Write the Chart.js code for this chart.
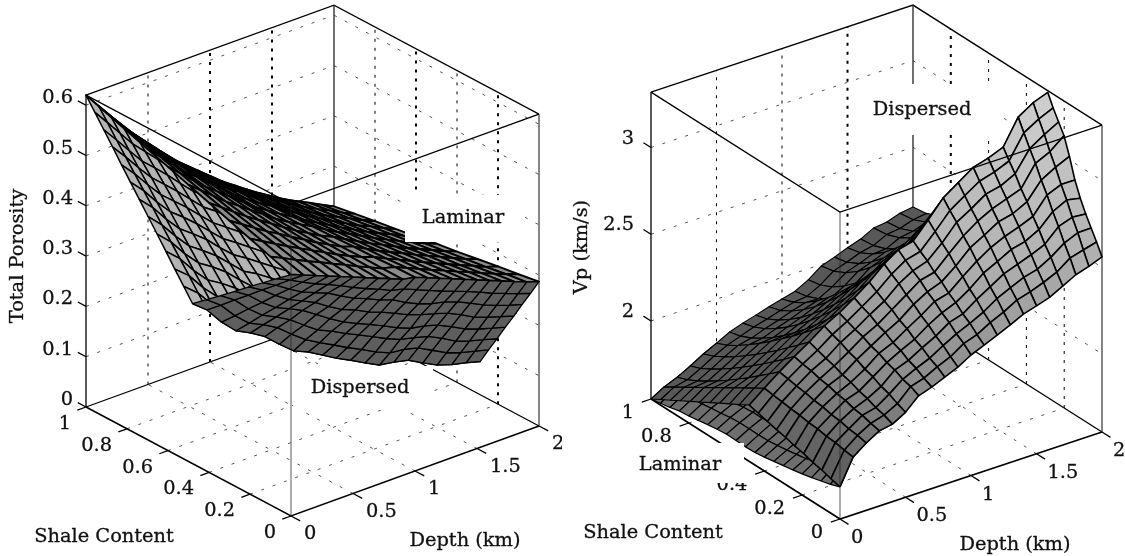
<!DOCTYPE html>
<html>
<head>
<meta charset="utf-8">
<title>Porosity and Vp surfaces</title>
<script src="https://cdn.jsdelivr.net/npm/chart.js@4"></script>
<style>
  html, body { margin: 0; padding: 0; background: #fff; overflow: hidden; }
  #wrap { position: relative; width: 1125px; height: 556px; }
  canvas { position: absolute; top: 0; }
  #porosityChart { left: 0; }
  #vpChart { left: 562px; }
</style>
</head>
<body>
<div id="wrap">
  <canvas id="porosityChart" width="562" height="556"></canvas>
  <canvas id="vpChart" width="563" height="556"></canvas>
</div>
<script>
// depth columns shared by every sheet
const depthKm = [0, 0.1, 0.2, 0.3, 0.4, 0.5, 0.6, 0.7, 0.8, 0.9, 1, 1.1, 1.2, 1.3, 1.4, 1.5, 1.6, 1.7, 1.8, 1.9, 2];
// shale content of the fold between the two dispersed sheets, per depth
const foldShale = [0.48, 0.47, 0.46, 0.45, 0.44, 0.43, 0.42, 0.41, 0.40, 0.39, 0.385, 0.375, 0.365, 0.355, 0.345, 0.335, 0.325, 0.315, 0.305, 0.295, 0.287];

// Left plot, one row per depth, shale content rising along the row
// dispersed, from clean sand down to the fold
const porosityDispersedLow = [
  [.480,.457,.434,.411,.387,.364,.341,.318],
  [.470,.446,.421,.397,.372,.348,.323,.299],
  [.460,.433,.405,.378,.350,.323,.295,.268],
  [.450,.421,.391,.362,.332,.303,.273,.244],
  [.440,.411,.381,.351,.322,.292,.263,.233],
  [.430,.400,.372,.340,.311,.279,.250,.219],
  [.420,.388,.358,.324,.295,.261,.230,.197],
  [.410,.377,.345,.310,.279,.244,.212,.177],
  [.400,.367,.336,.301,.265,.234,.199,.168],
  [.390,.356,.325,.289,.254,.222,.187,.155],
  [.385,.350,.317,.280,.244,.211,.174,.141],
  [.375,.340,.303,.270,.233,.200,.163,.130],
  [.365,.330,.292,.259,.222,.189,.151,.118],
  [.355,.320,.284,.251,.213,.180,.142,.107],
  [.345,.311,.279,.245,.210,.176,.142,.106],
  [.335,.302,.271,.238,.204,.171,.138,.103],
  [.325,.292,.260,.227,.193,.160,.126,.091],
  [.315,.281,.248,.214,.181,.147,.114,.080],
  [.305,.272,.239,.206,.173,.140,.107,.074],
  [.295,.263,.231,.199,.167,.135,.103,.071],
  [.287,.255,.224,.192,.161,.129,.098,.066]
];
// dispersed, from the fold up to pure shale
const porosityDispersedHigh = [
  [.318,.343,.368,.394,.419,.444,.469,.494,.519,.545,.570,.595,.620],
  [.299,.323,.348,.372,.396,.420,.445,.469,.493,.517,.541,.566,.590],
  [.268,.293,.317,.341,.365,.390,.414,.438,.463,.487,.511,.536,.560],
  [.244,.268,.292,.315,.339,.363,.387,.411,.435,.459,.482,.506,.530],
  [.233,.256,.278,.301,.324,.346,.369,.392,.414,.437,.460,.482,.505],
  [.219,.241,.263,.284,.306,.328,.350,.371,.393,.415,.437,.458,.480],
  [.197,.219,.240,.262,.283,.305,.326,.348,.369,.391,.412,.434,.455],
  [.177,.198,.219,.240,.261,.282,.304,.325,.346,.367,.388,.409,.430],
  [.168,.188,.208,.229,.249,.269,.289,.309,.329,.350,.370,.390,.410],
  [.155,.175,.194,.214,.233,.253,.273,.292,.312,.331,.351,.370,.390],
  [.141,.160,.179,.198,.217,.236,.256,.275,.294,.313,.332,.351,.370],
  [.130,.148,.167,.185,.203,.222,.240,.258,.277,.295,.313,.332,.350],
  [.118,.136,.154,.172,.190,.208,.226,.243,.261,.279,.297,.315,.333],
  [.107,.124,.142,.159,.177,.194,.212,.229,.246,.264,.281,.299,.316],
  [.106,.122,.138,.155,.171,.187,.203,.219,.235,.252,.268,.284,.300],
  [.103,.118,.133,.149,.164,.179,.194,.209,.224,.240,.255,.270,.285],
  [.091,.106,.121,.136,.151,.166,.181,.195,.210,.225,.240,.255,.270],
  [.080,.095,.110,.124,.139,.154,.169,.183,.198,.213,.228,.242,.257],
  [.074,.088,.103,.117,.131,.145,.160,.174,.188,.202,.217,.231,.245],
  [.071,.084,.098,.111,.125,.138,.152,.165,.178,.192,.205,.219,.232],
  [.066,.079,.092,.104,.117,.130,.143,.156,.169,.181,.194,.207,.220]
];
// laminar, shale content 0 to 1 in steps of 0.1
const porosityLaminar = [
  [.480,.494,.508,.522,.536,.550,.564,.578,.592,.606,.620],
  [.470,.482,.494,.506,.518,.530,.542,.554,.566,.578,.590],
  [.460,.470,.480,.490,.500,.510,.520,.530,.540,.550,.560],
  [.450,.458,.466,.474,.482,.490,.498,.506,.514,.522,.530],
  [.440,.447,.453,.460,.466,.473,.479,.486,.492,.499,.505],
  [.430,.435,.440,.445,.450,.455,.460,.465,.470,.475,.480],
  [.420,.424,.427,.431,.434,.438,.441,.445,.448,.452,.455],
  [.410,.412,.414,.416,.418,.420,.422,.424,.426,.428,.430],
  [.400,.401,.402,.403,.404,.405,.406,.407,.408,.409,.410],
  [.390,.390,.391,.390,.390,.391,.390,.390,.391,.390,.390],
  [.385,.384,.382,.381,.379,.378,.376,.375,.373,.372,.370],
  [.375,.373,.370,.368,.365,.363,.360,.358,.355,.353,.350],
  [.365,.362,.359,.355,.352,.349,.346,.343,.339,.336,.333],
  [.355,.351,.347,.343,.339,.336,.332,.328,.324,.320,.316],
  [.345,.341,.336,.332,.327,.323,.318,.314,.309,.305,.300],
  [.335,.330,.325,.320,.315,.310,.305,.300,.295,.290,.285],
  [.325,.320,.314,.309,.303,.298,.292,.287,.281,.276,.270],
  [.315,.309,.303,.298,.292,.286,.280,.274,.269,.263,.257],
  [.305,.299,.293,.287,.281,.275,.269,.263,.257,.251,.245],
  [.295,.289,.282,.276,.270,.264,.257,.251,.245,.238,.232],
  [.287,.280,.274,.267,.260,.254,.247,.240,.234,.227,.220]
];

// Right plot, same layout as the left one
const vpDispersedLow = [
  [1.735,1.749,1.766,1.777,1.794,1.805,1.822,1.833,1.847,1.861,1.875],
  [1.882,1.889,1.900,1.904,1.914,1.918,1.928,1.932,1.940,1.947,1.954],
  [1.938,1.950,1.956,1.969,1.975,1.987,1.993,2.005,2.012,2.021,2.030],
  [1.983,1.995,2.010,2.018,2.034,2.042,2.057,2.065,2.080,2.088,2.100],
  [1.997,2.018,2.031,2.052,2.065,2.086,2.098,2.119,2.132,2.149,2.166],
  [2.040,2.060,2.085,2.100,2.125,2.140,2.165,2.180,2.204,2.220,2.240],
  [2.110,2.134,2.147,2.171,2.185,2.209,2.222,2.246,2.260,2.278,2.297],
  [2.135,2.158,2.186,2.204,2.232,2.250,2.279,2.297,2.325,2.343,2.366],
  [2.167,2.199,2.221,2.253,2.275,2.308,2.330,2.362,2.384,2.411,2.438],
  [2.200,2.233,2.270,2.298,2.335,2.363,2.400,2.428,2.465,2.493,2.525],
  [2.245,2.284,2.313,2.352,2.381,2.420,2.449,2.488,2.517,2.551,2.585],
  [2.277,2.311,2.350,2.379,2.418,2.447,2.486,2.515,2.554,2.583,2.617],
  [2.310,2.356,2.392,2.438,2.474,2.520,2.556,2.602,2.638,2.679,2.720],
  [2.343,2.392,2.445,2.489,2.543,2.587,2.640,2.684,2.738,2.781,2.830],
  [2.380,2.437,2.484,2.541,2.588,2.645,2.692,2.749,2.796,2.848,2.900],
  [2.403,2.460,2.521,2.573,2.635,2.687,2.748,2.800,2.862,2.913,2.970],
  [2.427,2.490,2.543,2.605,2.658,2.721,2.774,2.837,2.889,2.947,3.005],
  [2.467,2.525,2.589,2.642,2.705,2.759,2.822,2.875,2.939,2.992,3.050],
  [2.507,2.582,2.647,2.721,2.786,2.861,2.926,3.001,3.065,3.135,3.205],
  [2.530,2.604,2.683,2.752,2.831,2.900,2.979,3.048,3.127,3.196,3.270],
  [2.560,2.626,2.687,2.748,2.819,2.904,3.020,3.119,3.179,3.240,3.310]
];
const vpDispersedHigh = [
  [1.875,1.842,1.810,1.778,1.745,1.713,1.680,1.648,1.615,1.583,1.550],
  [1.954,1.918,1.882,1.846,1.810,1.774,1.738,1.702,1.666,1.630,1.594],
  [2.030,1.980,1.932,1.884,1.839,1.795,1.754,1.715,1.679,1.648,1.625],
  [2.100,2.046,1.994,1.943,1.895,1.848,1.803,1.762,1.723,1.689,1.665],
  [2.166,2.110,2.055,2.001,1.950,1.901,1.854,1.810,1.770,1.735,1.709],
  [2.240,2.179,2.120,2.062,2.007,1.953,1.903,1.856,1.812,1.774,1.746],
  [2.297,2.222,2.152,2.085,2.024,1.967,1.915,1.870,1.831,1.802,1.786],
  [2.366,2.285,2.209,2.137,2.070,2.008,1.952,1.903,1.861,1.830,1.812],
  [2.438,2.350,2.266,2.188,2.114,2.047,1.986,1.932,1.887,1.852,1.833],
  [2.525,2.427,2.335,2.248,2.167,2.093,2.025,1.966,1.916,1.877,1.856],
  [2.585,2.481,2.384,2.291,2.206,2.127,2.055,1.992,1.939,1.899,1.876],
  [2.617,2.496,2.384,2.282,2.191,2.110,2.041,1.984,1.939,1.909,1.896],
  [2.720,2.588,2.467,2.356,2.257,2.169,2.094,2.032,1.983,1.950,1.936],
  [2.830,2.689,2.559,2.441,2.334,2.240,2.160,2.093,2.041,2.006,1.991],
  [2.900,2.752,2.615,2.490,2.378,2.279,2.194,2.125,2.070,2.033,2.017],
  [2.970,2.815,2.672,2.541,2.424,2.320,2.232,2.159,2.101,2.063,2.046],
  [3.005,2.828,2.669,2.529,2.407,2.305,2.220,2.155,2.108,2.080,2.071],
  [3.050,2.871,2.712,2.571,2.448,2.345,2.260,2.195,2.148,2.119,2.110],
  [3.205,2.999,2.814,2.651,2.510,2.391,2.293,2.217,2.162,2.130,2.119],
  [3.270,3.056,2.865,2.696,2.550,2.426,2.325,2.246,2.190,2.156,2.145],
  [3.310,3.091,2.895,2.721,2.571,2.445,2.341,2.260,2.202,2.168,2.156]
];
// laminar Vp, shale content 0 to 1 in steps of 0.05; only the shallow rows show
const vpLaminarDepth = [0, 0.1, 0.2, 0.3, 0.4, 0.5];
const vpLaminar = [
  [1.735,1.715,1.700,1.685,1.672,1.660,1.650,1.640,1.630,1.622,1.620,1.622,1.624,1.618,1.610,1.600,1.590,1.585,1.570,1.560,1.550],
  [1.882,1.800,1.765,1.740,1.720,1.700,1.690,1.680,1.672,1.665,1.664,1.665,1.665,1.660,1.650,1.645,1.635,1.630,1.615,1.605,1.594],
  [1.938,1.860,1.820,1.790,1.765,1.745,1.730,1.720,1.710,1.705,1.705,1.700,1.700,1.695,1.685,1.680,1.670,1.660,1.645,1.635,1.625],
  [1.983,1.910,1.870,1.840,1.815,1.795,1.780,1.765,1.755,1.750,1.745,1.745,1.740,1.735,1.730,1.720,1.710,1.700,1.690,1.680,1.665],
  [1.997,1.940,1.900,1.870,1.850,1.830,1.815,1.800,1.790,1.785,1.780,1.780,1.780,1.775,1.770,1.760,1.750,1.740,1.730,1.720,1.709],
  [2.040,1.985,1.945,1.915,1.890,1.870,1.855,1.840,1.830,1.825,1.820,1.820,1.815,1.810,1.805,1.800,1.785,1.775,1.765,1.755,1.746]
];

// tick labels
const depthTicks = [0, 0.5, 1, 1.5, 2];
const shaleTicks = [0, 0.2, 0.4, 0.6, 0.8, 1];
const porosityTicks = [0, 0.1, 0.2, 0.3, 0.4, 0.5, 0.6];
const vpTicks = [2, 2.5, 3];

const TEXT_FONT = '19.4px "DejaVu Serif"';
const GRID_GREY = '#555';

// Each plot's axes box: where its near corner sits on the page and how far
// one unit of depth, shale and z moves a point.
const porosityView = { x0: 291, y0: 516, dx: 124, dy: -45, sx: -205, sy: -109, zMin: 0, zMax: 0.62, zy: -503 };
const vpView = { x0: 840, y0: 519, dx: 131, dy: -43.5, sx: -189, sy: -120, zMin: 1.55, zMax: 3.32, zy: -173.4 };

function project(view, depth, shale, z) {
  return {
    x: view.x0 + depth * view.dx + shale * view.sx,
    y: view.y0 + depth * view.dy + shale * view.sy + (z - view.zMin) * view.zy
  };
}

function lineSet(points, color, width, dash) {
  return {
    data: points, showLine: true, pointRadius: 0, fill: false, tension: 0,
    borderColor: color, borderWidth: width, borderDash: dash || [], borderCapStyle: 'butt'
  };
}

// one filled mesh cell per dataset, far cells first
function sheetSets(view, depths, grid, shaleAt, colorAt, width) {
  const sets = [];
  for (let i = depths.length - 2; i >= 0; i--) {
    for (let j = grid[i].length - 2; j >= 0; j--) {
      const corner = (a, b) => project(view, depths[a], shaleAt(a, b), grid[a][b]);
      const mean = (grid[i][j] + grid[i + 1][j] + grid[i][j + 1] + grid[i + 1][j + 1]) / 4;
      const first = corner(i, j);
      sets.push({
        data: [first, corner(i + 1, j), corner(i + 1, j + 1), corner(i, j + 1), first],
        showLine: true, pointRadius: 0, tension: 0, fill: 'shape',
        backgroundColor: colorAt(mean), borderColor: '#000', borderWidth: width, borderJoinStyle: 'round'
      });
    }
  }
  return sets;
}

function wallAndFloorGrid(view, zTicks, thickDepth, thickShale) {
  const sets = [];
  const p = (d, s, z) => project(view, d, s, z);
  zTicks.forEach(z => {
    sets.push(lineSet([p(0, 1, z), p(2, 1, z), p(2, 0, z)], GRID_GREY, 1, [3, 9]));
  });
  depthTicks.slice(1, -1).forEach(d => {
    sets.push(lineSet([p(d, 1, view.zMin), p(d, 1, view.zMax)], '#000', thickDepth.includes(d) ? 2 : 1, [3, 6]));
    sets.push(lineSet([p(d, 0, view.zMin), p(d, 1, view.zMin)], GRID_GREY, 1, [3, 9]));
  });
  shaleTicks.slice(1, -1).forEach(s => {
    sets.push(lineSet([p(2, s, view.zMin), p(2, s, view.zMax)], '#000', thickShale.includes(s) ? 2 : 1, [3, 6]));
    sets.push(lineSet([p(0, s, view.zMin), p(2, s, view.zMin)], GRID_GREY, 1, [3, 9]));
  });
  return sets;
}

function boxBack(view, zTicks) {
  const p = (d, s, z) => project(view, d, s, z);
  const lo = view.zMin, hi = view.zMax;
  const sets = [
    lineSet([p(0, 1, hi), p(2, 1, hi), p(2, 0, hi)], '#000', 1.3),
    lineSet([p(0, 1, lo), p(2, 1, lo), p(2, 0, lo)], '#000', 1.3),
    lineSet([p(0, 1, lo), p(0, 1, hi)], '#000', 1.3),
    lineSet([p(2, 1, lo), p(2, 1, hi)], '#222', 1.3),
    lineSet([p(2, 0, lo), p(2, 0, hi)], '#444', 1.3),
    lineSet([p(0, 1, lo), p(0, 0, lo), p(2, 0, lo)], '#000', 1.6)
  ];
  // tick marks
  zTicks.forEach(z => sets.push(lineSet([p(0, 1, z), p(0, 1.04, z)], '#000', 1.3)));
  shaleTicks.forEach(s => sets.push(lineSet([p(0, s, lo), p(-0.07, s, lo)], '#000', 1.3)));
  depthTicks.forEach(d => sets.push(lineSet([p(d, 0, lo), p(d, -0.045, lo)], '#000', 1.3)));
  return sets;
}

function boxFront(view) {
  const p = (d, s, z) => project(view, d, s, z);
  const lo = view.zMin, hi = view.zMax;
  return [
    lineSet([p(0, 0, lo), p(0, 0, hi)], 'rgba(40,40,40,0.65)', 1.2),
    lineSet([p(0, 1, hi), p(0, 0, hi), p(2, 0, hi)], '#000', 1.3)
  ];
}

function vpGrey(z) {
  const stops = [[1.7, 80], [2.1, 135], [2.6, 178], [3.3, 208]];
  let g = stops[0][1];
  for (let i = 0; i < stops.length - 1; i++) {
    if (z >= stops[i][0]) {
      const t = Math.min(1, (z - stops[i][0]) / (stops[i + 1][0] - stops[i][0]));
      g = stops[i][1] + t * (stops[i + 1][1] - stops[i][1]);
    }
  }
  g = Math.round(g);
  return `rgb(${g},${g},${g})`;
}

// tick labels, white-backed annotations and axis titles
function textPlugin(cfg) {
  return {
    id: 'axisText',
    afterDatasetsDraw(chart) {
      const ctx = chart.ctx;
      const px = v => chart.scales.x.getPixelForValue(v);
      const py = v => chart.scales.y.getPixelForValue(v);
      const view = cfg.view;
      const put = (text, x, y) => {
        ctx.fillText(text, x, y);
        ctx.strokeText(text, x, y);
      };
      ctx.save();
      ctx.fillStyle = '#111';
      ctx.strokeStyle = '#111';
      ctx.lineWidth = 0.3;
      ctx.font = TEXT_FONT;
      ctx.textBaseline = 'middle';
      ctx.textAlign = 'right';
      cfg.zTicks.forEach(z => {
        const a = project(view, 0, 1, z);
        put(String(z), px(a.x - cfg.zGap), py(a.y - cfg.zDrop));
      });
      shaleTicks.forEach(s => {
        const a = project(view, 0, s, view.zMin);
        put(String(s), px(a.x - cfg.sGap), py(a.y + cfg.sDrop));
      });
      ctx.textAlign = 'left';
      depthTicks.forEach(d => {
        const a = project(view, d, 0, view.zMin);
        put(String(d), px(a.x + cfg.dGap), py(a.y + cfg.dDrop));
      });
      ctx.textAlign = 'center';
      cfg.notes.forEach(n => {
        ctx.fillStyle = '#fff';
        ctx.fillRect(px(n.box[0]), py(n.box[1]), n.box[2] - n.box[0], n.box[3] - n.box[1]);
        ctx.fillStyle = '#111';
        put(n.text, px(n.x), py(n.y));
      });
      cfg.titles.forEach(n => put(n.text, px(n.x), py(n.y)));
      ctx.translate(px(cfg.zTitle.x), py(cfg.zTitle.y));
      ctx.rotate(-Math.PI / 2);
      put(cfg.zTitle.text, 0, 0);
      ctx.restore();
    }
  };
}

function drawPlot(canvasId, xMin, xMax, datasets, plugin) {
  return new Chart(document.getElementById(canvasId), {
    type: 'scatter',
    // Chart.js paints the first dataset last
    data: { datasets: datasets.slice().reverse() },
    options: {
      responsive: false,
      animation: false,
      events: [],
      layout: { padding: 0 },
      plugins: { legend: { display: false }, tooltip: { enabled: false } },
      scales: {
        x: { type: 'linear', display: false, min: xMin, max: xMax },
        y: { type: 'linear', display: false, min: 0, max: 556, reverse: true }
      }
    },
    plugins: [plugin]
  });
}

const porositySets = [].concat(
  wallAndFloorGrid(porosityView, porosityTicks.slice(1), [1, 1.5], [0.6, 0.2]),
  boxBack(porosityView, porosityTicks),
  sheetSets(porosityView, depthKm, porosityDispersedHigh, (i, k) => foldShale[i] + (1 - foldShale[i]) * k / 12, () => '#b4b4b4', 1.5),
  sheetSets(porosityView, depthKm, porosityLaminar, (i, k) => k / 10, () => '#8c8c8c', 1.9),
  sheetSets(porosityView, depthKm, porosityDispersedLow, (i, k) => foldShale[i] * k / 7, () => '#5e5e5e', 1.3),
  boxFront(porosityView)
);
drawPlot('porosityChart', 0, 562, porositySets, textPlugin({
  view: porosityView, zTicks: porosityTicks,
  zGap: 13, zDrop: 7, sGap: 15, sDrop: 17, dGap: 13, dDrop: 18,
  notes: [
    { text: 'Laminar', x: 463, y: 218, box: [405, 195, 525, 242] },
    { text: 'Dispersed', x: 360, y: 388, box: [293, 366, 433, 410] }
  ],
  titles: [
    { text: 'Shale Content', x: 104, y: 537 },
    { text: 'Depth (km)', x: 465, y: 541 }
  ],
  zTitle: { text: 'Total Porosity', x: 18, y: 256 }
}));

const vpSets = [].concat(
  wallAndFloorGrid(vpView, vpTicks, [1.5], [0.8]),
  boxBack(vpView, vpTicks),
  sheetSets(vpView, vpLaminarDepth, vpLaminar, (i, k) => k / 20, () => '#6e6e6e', 1.2),
  sheetSets(vpView, depthKm, vpDispersedHigh, (i, k) => foldShale[i] + (1 - foldShale[i]) * k / 10, () => '#585858', 1.1),
  sheetSets(vpView, depthKm, vpDispersedLow, (i, k) => foldShale[i] * k / 10, vpGrey, 1.6),
  boxFront(vpView)
);
drawPlot('vpChart', 562, 1125, vpSets, textPlugin({
  view: vpView, zTicks: vpTicks,
  zGap: 17, zDrop: 9, sGap: 17, sDrop: 14, dGap: 11, dDrop: 19,
  notes: [
    { text: 'Laminar', x: 680, y: 465, box: [636, 443, 744, 483] },
    { text: 'Dispersed', x: 922, y: 110, box: [852, 84, 1000, 135] }
  ],
  titles: [
    { text: 'Shale Content', x: 653, y: 533 },
    { text: 'Depth (km)', x: 1015, y: 545 }
  ],
  zTitle: { text: 'Vp (km/s)', x: 582, y: 247 }
}));
</script>
</body>
</html>
